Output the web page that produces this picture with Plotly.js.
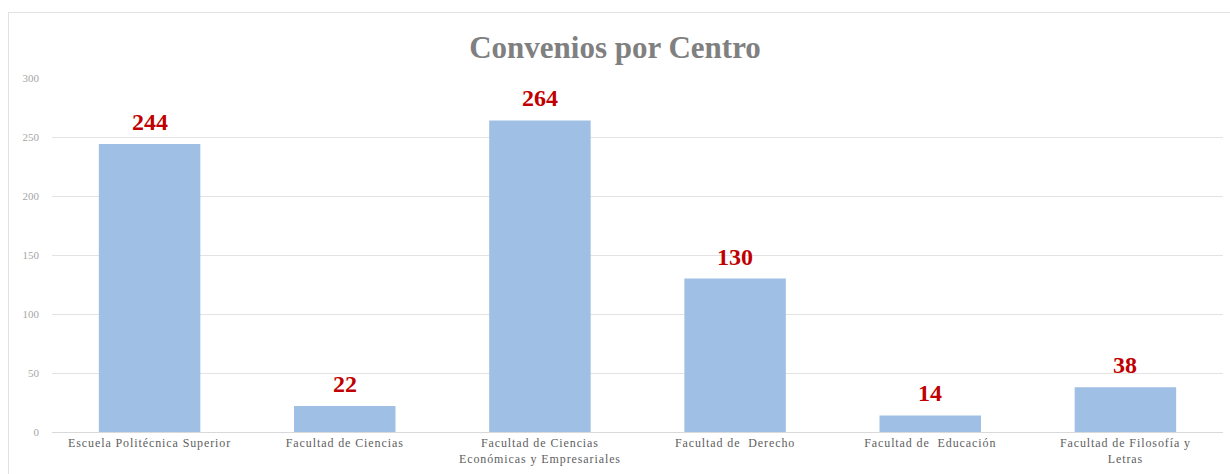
<!DOCTYPE html>
<html>
<head>
<meta charset="utf-8">
<script src="https://cdn.plot.ly/plotly-3.0.1.min.js"></script>
<style>
html,body{margin:0;padding:0;background:#fff;}
#frame{position:absolute;left:8px;top:12px;width:1240px;height:480px;border:1px solid #e2e2e2;box-sizing:border-box;}
#chart{position:absolute;left:0;top:0;width:1230px;height:474px;}
#chart .xtick text{letter-spacing:0.9px;}
</style>
</head>
<body>
<div id="frame"></div>
<div id="chart"></div>
<script>
const categories = [
  "Escuela Politécnica Superior",
  "Facultad de Ciencias",
  "Facultad de Ciencias<br>Económicas y Empresariales",
  "Facultad de  Derecho",
  "Facultad de  Educación",
  "Facultad de Filosofía y<br>Letras"
];
const convenios = [244, 22, 264, 130, 14, 38];
const yTicks = [0, 50, 100, 150, 200, 250, 300];

const trace = {
  type: "bar",
  x: categories,
  y: convenios,
  marker: {color: "#9fbfe5", line: {width: 0}},
  hoverinfo: "skip"
};

const labels = categories.map((c, i) => ({
  x: c, y: convenios[i], xref: "x", yref: "y",
  text: "<b>" + convenios[i] + "</b>",
  showarrow: false, yanchor: "bottom", yshift: 7,
  font: {family: "Liberation Serif, serif", size: 24, color: "#c00000"}
}));

const layout = {
  width: 1230, height: 474,
  margin: {l: 52, r: 7, t: 78, b: 42},
  paper_bgcolor: "rgba(0,0,0,0)",
  plot_bgcolor: "rgba(0,0,0,0)",
  bargap: 0.48,
  showlegend: false,
  annotations: labels,
  title: {
    text: "<b>Convenios por Centro</b>",
    x: 0.5, xanchor: "center", y: 0.9, yanchor: "middle",
    font: {family: "Liberation Serif, serif", size: 31, color: "#808080"}
  },
  xaxis: {
    type: "category",
    showgrid: false,
    showline: true, linecolor: "#d9d9d9", linewidth: 1,
    ticks: "",
    tickfont: {family: "Liberation Serif, serif", size: 12, color: "#606060"},
    fixedrange: true
  },
  yaxis: {
    range: [0, 300],
    tickvals: yTicks,
    ticktext: yTicks.map(String),
    showgrid: true, gridcolor: "#e3e3e3", gridwidth: 1,
    zeroline: false,
    showline: false,
    ticks: "",
    ticklabelstandoff: 12,
    tickfont: {family: "Liberation Serif, serif", size: 11, color: "#a6a6a6"},
    fixedrange: true
  }
};

Plotly.newPlot("chart", [trace], layout, {displayModeBar: false, staticPlot: true});
</script>
</body>
</html>
